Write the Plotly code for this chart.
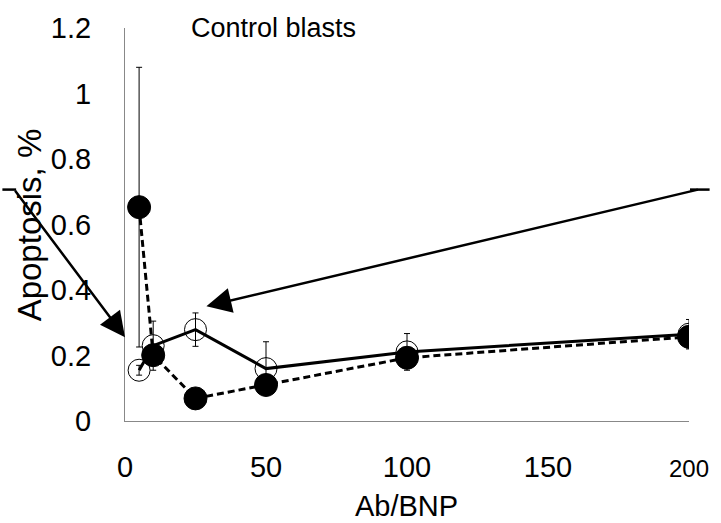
import plotly.graph_objects as go

# ---- data ----
ab_bnp = [5, 10, 25, 50, 100, 200]
open_vals = [0.155, 0.23, 0.279, 0.16, 0.211, 0.265]
open_err = [0.015, 0.075, 0.051, 0.082, 0.056, 0.045]
filled_vals = [0.653, 0.201, 0.069, 0.110, 0.193, 0.257]
filled_err = [0.427, 0.03, 0.02, 0.02, 0.02, 0.02]
x_ticks = [0, 50, 100, 150, 200]
x_tick_text = ["0", "50", "100", "150", "<span style='font-size:24px'>200</span>"]
y_ticks = [0, 0.2, 0.4, 0.6, 0.8, 1, 1.2]
y_tick_text = ["0", "0.2", "0.4", "0.6", "0.8", "1", "1.2"]

FONT = "Liberation Sans, Arial, sans-serif"
W, H = 721, 523
# plot area in page pixels: x 125..700, y 27..421
PL, PR, PT, PB = 125, 700, 27, 421
L, T = PL, PT
PW, PH = PR - PL, PB - PT
R = W - L - PW
B = H - T - PH


def px(xp):
    return (xp - PL) / PW


def py(yp):
    return (PB - yp) / PH


fig = go.Figure()

fig.add_trace(go.Scatter(
    x=ab_bnp, y=open_vals, mode="lines+markers",
    line=dict(color="black", width=3),
    marker=dict(symbol="circle-open", size=22, color="black", line=dict(width=1, color="black")),
    error_y=dict(type="data", array=open_err, visible=True, color="black", thickness=1, width=3),
    showlegend=False,
))
fig.add_trace(go.Scatter(
    x=ab_bnp, y=filled_vals, mode="lines+markers",
    line=dict(color="black", width=3, dash="7px,4px"),
    marker=dict(symbol="circle", size=23, color="black", line=dict(width=1, color="black")),
    error_y=dict(type="data", array=filled_err, visible=True, color="black", thickness=1, width=3),
    showlegend=False,
))

# arrows (annotation overlays)
shapes = [
    dict(type="line", xref="paper", yref="paper", x0=px(0), y0=py(189), x1=px(14), y1=py(189),
         line=dict(color="black", width=2.5)),
    dict(type="line", xref="paper", yref="paper", x0=px(701), y0=py(189), x1=px(721), y1=py(189),
         line=dict(color="black", width=2.5)),
]

annotations = [
    dict(x=px(125), y=py(337), xref="paper", yref="paper", text="", showarrow=True,
         ax=14 - 125, ay=189 - 337, arrowhead=2, arrowsize=2, arrowwidth=2.5, arrowcolor="black",
         standoff=0, startstandoff=0),
    dict(x=px(208), y=py(306), xref="paper", yref="paper", text="", showarrow=True,
         ax=701 - 208, ay=189 - 306, arrowhead=2, arrowsize=2, arrowwidth=2.5, arrowcolor="black",
         standoff=0, startstandoff=0),
    dict(x=px(190), y=py(27), xref="paper", yref="paper", text="Control blasts", showarrow=False,
         xanchor="left", yanchor="middle", font=dict(family=FONT, size=27, color="black")),
    dict(x=px(412), y=py(506), xref="paper", yref="paper", text="Ab/BNP", showarrow=False,
         xanchor="center", yanchor="middle", font=dict(family=FONT, size=29, color="black")),
    dict(x=px(28), y=py(224), xref="paper", yref="paper", text="Apoptosis, %", showarrow=False,
         textangle=-90, xanchor="center", yanchor="middle",
         font=dict(family=FONT, size=33, color="black")),
]

fig.update_layout(
    width=W, height=H,
    margin=dict(l=L, r=R, t=T, b=B, pad=0),
    paper_bgcolor="white", plot_bgcolor="white",
    font=dict(family=FONT, size=29, color="black"),
    shapes=shapes, annotations=annotations,
    xaxis=dict(range=[0, 200], tickvals=x_ticks, ticktext=x_tick_text, showgrid=False,
               zeroline=False, showline=True, linecolor="#888888", linewidth=1, ticks="",
               ticklabelstandoff=20, tickfont=dict(size=29)),
    yaxis=dict(range=[0, 1.2], tickvals=y_ticks, ticktext=y_tick_text, showgrid=False,
               zeroline=False, showline=True, linecolor="#888888", linewidth=1, ticks="",
               ticklabelstandoff=27, tickfont=dict(size=29)),
)

fig.write_html(
    "out.html",
    config={"displayModeBar": False},
    post_script=(
        "document.documentElement.style.overflow='hidden';"
        "document.body.style.margin='0';document.body.style.overflow='hidden';"
    ),
)
